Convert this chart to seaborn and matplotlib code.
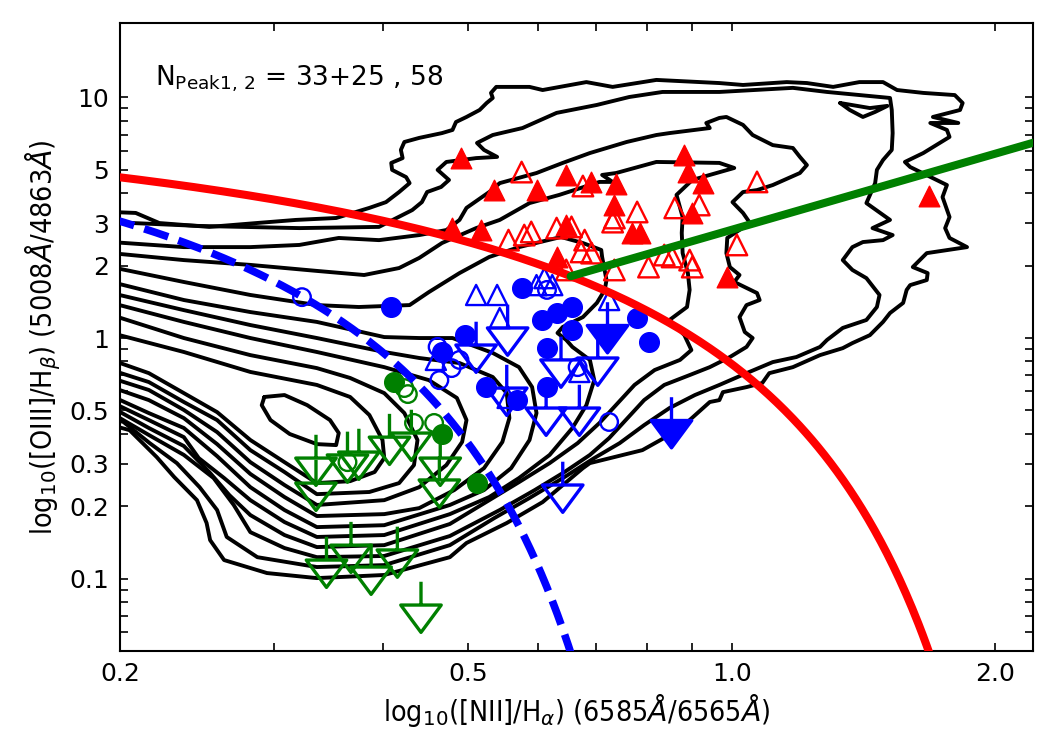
import numpy as np
import pandas as pd
import matplotlib
matplotlib.use("Agg")
import matplotlib.pyplot as plt
import matplotlib.ticker as mtick
from matplotlib import font_manager
from matplotlib.path import Path
import seaborn as sns

# ---- density contours of the comparison sample: (log10 [NII]/Ha, log10 [OIII]/Hb) ----
c1 = [(-0.709, 0.524), (-0.681, 0.520), (-0.654, 0.478), (-0.597, 0.462), (-0.543, 0.478), (-0.498, 0.491),
      (-0.452, 0.499), (-0.414, 0.541), (-0.395, 0.565), (-0.380, 0.607), (-0.368, 0.644), (-0.372, 0.669),
      (-0.388, 0.699), (-0.389, 0.728), (-0.376, 0.748), (-0.378, 0.782), (-0.374, 0.815), (-0.357, 0.832),
      (-0.331, 0.852), (-0.319, 0.865), (-0.315, 0.898), (-0.303, 0.919), (-0.288, 0.948), (-0.280, 0.977),
      (-0.273, 0.998), (-0.275, 1.019), (-0.269, 1.044), (-0.231, 1.044), (-0.216, 1.031), (-0.166, 1.064),
      (-0.136, 1.044), (-0.086, 1.073), (-0.014, 1.060), (0.013, 1.052), (0.063, 1.064), (0.086, 1.060),
      (0.116, 1.044), (0.146, 1.064), (0.173, 1.064), (0.189, 1.031), (0.219, 1.019), (0.255, 1.010),
      (0.264, 0.977), (0.261, 0.948), (0.230, 0.919), (0.259, 0.894), (0.227, 0.894), (0.246, 0.865),
      (0.249, 0.836), (0.219, 0.769), (0.198, 0.732), (0.204, 0.711), (0.246, 0.636), (0.241, 0.586),
      (0.249, 0.503), (0.244, 0.457), (0.249, 0.416), (0.269, 0.378), (0.223, 0.353), (0.207, 0.295),
      (0.224, 0.270), (0.223, 0.241), (0.204, 0.220), (0.200, 0.200), (0.196, 0.146), (0.181, 0.104),
      (0.173, 0.067), (0.158, 0.012), (0.138, -0.021), (0.127, -0.042), (0.101, -0.071), (0.070, -0.121),
      (0.043, -0.146), (0.035, -0.187), (0.017, -0.204), (-0.010, -0.225), (-0.014, -0.258), (-0.025, -0.266),
      (-0.048, -0.341), (-0.071, -0.403), (-0.102, -0.466), (-0.162, -0.520), (-0.170, -0.541), (-0.216, -0.682),
      (-0.257, -0.769), (-0.303, -0.852), (-0.322, -0.911), (-0.397, -0.985), (-0.474, -0.998), (-0.531, -0.977),
      (-0.580, -0.923), (-0.596, -0.840), (-0.600, -0.769), (-0.611, -0.674), (-0.637, -0.578), (-0.657, -0.495),
      (-0.688, -0.383), (-0.709, -0.362)]
c2 = [(-0.709, 0.482), (-0.609, 0.466), (-0.494, 0.457), (-0.403, 0.462), (-0.365, 0.532), (-0.354, 0.565),
      (-0.348, 0.607), (-0.332, 0.628), (-0.323, 0.657), (-0.336, 0.699), (-0.326, 0.732), (-0.292, 0.748),
      (-0.268, 0.753), (-0.283, 0.782), (-0.291, 0.811), (-0.273, 0.844), (-0.239, 0.873), (-0.200, 0.936),
      (-0.154, 0.969), (-0.117, 1.002), (-0.079, 1.023), (-0.014, 1.023), (0.070, 1.040), (0.109, 1.023),
      (0.181, 0.998), (0.183, 0.948), (0.184, 0.852), (0.183, 0.782), (0.173, 0.740), (0.166, 0.699),
      (0.164, 0.644), (0.154, 0.561), (0.181, 0.491), (0.161, 0.457), (0.184, 0.428), (0.173, 0.407),
      (0.150, 0.399), (0.138, 0.378), (0.127, 0.324), (0.138, 0.283), (0.154, 0.249), (0.169, 0.179),
      (0.166, 0.129), (0.154, 0.075), (0.127, 0.042), (0.109, -0.008), (0.101, -0.037), (0.074, -0.079),
      (0.047, -0.100), (0.017, -0.146), (-0.014, -0.195), (-0.042, -0.237), (-0.071, -0.291), (-0.100, -0.362),
      (-0.128, -0.437), (-0.157, -0.499), (-0.191, -0.578), (-0.231, -0.665), (-0.271, -0.748), (-0.322, -0.861),
      (-0.397, -0.944), (-0.474, -0.952), (-0.542, -0.911), (-0.577, -0.827), (-0.588, -0.715), (-0.608, -0.620),
      (-0.634, -0.520), (-0.665, -0.437), (-0.695, -0.349), (-0.709, -0.333)]
c2_island = [(0.124, 0.977), (0.158, 0.956), (0.178, 0.965), (0.164, 0.940), (0.150, 0.919), (0.135, 0.948),
             (0.124, 0.977)]
c3 = [(-0.709, 0.399), (-0.626, 0.378), (-0.550, 0.378), (-0.494, 0.387), (-0.449, 0.416), (-0.403, 0.407),
      (-0.357, 0.428), (-0.326, 0.449), (-0.311, 0.491), (-0.303, 0.541), (-0.277, 0.607), (-0.265, 0.644),
      (-0.223, 0.686), (-0.193, 0.728), (-0.162, 0.769), (-0.120, 0.815), (-0.086, 0.844), (-0.071, 0.852),
      (-0.025, 0.873), (-0.029, 0.894), (-0.014, 0.915), (-0.006, 0.919), (0.013, 0.886), (0.024, 0.844),
      (0.047, 0.802), (0.070, 0.790), (0.078, 0.753), (0.086, 0.719), (0.078, 0.686), (0.047, 0.636),
      (0.029, 0.615), (0.013, 0.607), (0.001, 0.565), (0.013, 0.520), (0.021, 0.478), (-0.005, 0.416),
      (-0.006, 0.353), (-0.002, 0.295), (0.009, 0.262), (0.003, 0.233), (0.029, 0.187), (0.032, 0.158),
      (0.017, 0.137), (0.009, 0.087), (0.015, 0.025), (0.024, 0.000), (0.017, -0.037), (-0.002, -0.079),
      (-0.025, -0.121), (-0.048, -0.154), (-0.077, -0.195), (-0.100, -0.258), (-0.119, -0.333), (-0.140, -0.416),
      (-0.162, -0.486), (-0.191, -0.557), (-0.225, -0.632), (-0.265, -0.715), (-0.322, -0.823), (-0.397, -0.906),
      (-0.474, -0.911), (-0.511, -0.873), (-0.550, -0.807), (-0.569, -0.694), (-0.592, -0.582), (-0.626, -0.486),
      (-0.666, -0.403), (-0.709, -0.312)]
c4 = [(-0.709, 0.353), (-0.626, 0.324), (-0.550, 0.304), (-0.474, 0.279), (-0.420, 0.262), (-0.380, 0.291),
      (-0.357, 0.333), (-0.331, 0.395), (-0.292, 0.457), (-0.265, 0.491), (-0.231, 0.561), (-0.197, 0.595),
      (-0.151, 0.649), (-0.136, 0.649), (-0.148, 0.678), (-0.132, 0.686), (-0.086, 0.732), (-0.014, 0.728),
      (0.003, 0.707), (-0.025, 0.678), (-0.045, 0.657), (-0.063, 0.595), (-0.056, 0.503), (-0.057, 0.437),
      (-0.056, 0.353), (-0.050, 0.270), (-0.048, 0.200), (-0.051, 0.129), (-0.071, 0.075), (-0.054, 0.012),
      (-0.046, -0.050), (-0.059, -0.091), (-0.088, -0.133), (-0.111, -0.195), (-0.130, -0.270), (-0.151, -0.353),
      (-0.176, -0.437), (-0.208, -0.520), (-0.243, -0.599), (-0.277, -0.674), (-0.322, -0.773), (-0.397, -0.861),
      (-0.474, -0.869), (-0.511, -0.819), (-0.550, -0.736), (-0.574, -0.653), (-0.597, -0.557), (-0.626, -0.449),
      (-0.666, -0.374), (-0.709, -0.287)]
c5 = [(-0.709, 0.295), (-0.626, 0.233), (-0.550, 0.179), (-0.474, 0.137), (-0.426, 0.129), (-0.368, 0.137),
      (-0.346, 0.191), (-0.311, 0.270), (-0.277, 0.337), (-0.243, 0.378), (-0.195, 0.420), (-0.170, 0.395),
      (-0.149, 0.366), (-0.148, 0.337), (-0.143, 0.241), (-0.145, 0.200), (-0.154, 0.146), (-0.170, 0.087),
      (-0.193, 0.046), (-0.199, 0.021), (-0.189, -0.008), (-0.182, -0.037), (-0.162, -0.091), (-0.157, -0.175),
      (-0.166, -0.279), (-0.182, -0.374), (-0.208, -0.486), (-0.243, -0.582), (-0.277, -0.661), (-0.322, -0.732),
      (-0.397, -0.819), (-0.474, -0.827), (-0.511, -0.765), (-0.550, -0.674), (-0.580, -0.582), (-0.609, -0.499),
      (-0.626, -0.412), (-0.666, -0.341), (-0.709, -0.266)]
c6 = [(-0.709, 0.233), (-0.626, 0.158), (-0.550, 0.108), (-0.474, 0.067), (-0.397, 0.004), (-0.357, 0.000),
      (-0.319, 0.000), (-0.273, -0.062), (-0.243, -0.121), (-0.228, -0.204), (-0.223, -0.312), (-0.231, -0.424),
      (-0.252, -0.541), (-0.283, -0.632), (-0.322, -0.694), (-0.397, -0.778), (-0.474, -0.786), (-0.511, -0.715),
      (-0.550, -0.620), (-0.588, -0.491), (-0.626, -0.374), (-0.666, -0.312), (-0.709, -0.241)]
c7 = [(-0.709, 0.187), (-0.626, 0.116), (-0.550, 0.054), (-0.474, 0.000), (-0.397, -0.058), (-0.357, -0.083),
      (-0.311, -0.104), (-0.273, -0.162), (-0.257, -0.229), (-0.254, -0.333), (-0.262, -0.432), (-0.283, -0.541),
      (-0.317, -0.632), (-0.357, -0.707), (-0.397, -0.732), (-0.474, -0.740), (-0.511, -0.661), (-0.550, -0.565),
      (-0.588, -0.441), (-0.626, -0.333), (-0.666, -0.258), (-0.709, -0.204)]
c8 = [(-0.709, 0.146), (-0.626, 0.067), (-0.550, 0.000), (-0.474, -0.058), (-0.397, -0.121), (-0.346, -0.175),
      (-0.314, -0.249), (-0.303, -0.341), (-0.308, -0.432), (-0.326, -0.528), (-0.357, -0.620), (-0.397, -0.674),
      (-0.474, -0.694), (-0.511, -0.611), (-0.550, -0.516), (-0.588, -0.391), (-0.626, -0.299), (-0.666, -0.216),
      (-0.709, -0.166)]
c9 = [(-0.709, 0.096), (-0.626, 0.000), (-0.550, -0.071), (-0.474, -0.125), (-0.436, -0.166), (-0.397, -0.229),
      (-0.374, -0.312), (-0.359, -0.424), (-0.363, -0.528), (-0.380, -0.603), (-0.414, -0.640), (-0.474, -0.649),
      (-0.511, -0.557), (-0.550, -0.466), (-0.588, -0.341), (-0.626, -0.266), (-0.666, -0.183), (-0.709, -0.133)]
c10 = [(-0.709, 0.021), (-0.626, -0.058), (-0.550, -0.141), (-0.474, -0.195), (-0.436, -0.245), (-0.414, -0.320),
       (-0.399, -0.424), (-0.397, -0.499), (-0.408, -0.557), (-0.436, -0.595), (-0.474, -0.603), (-0.511, -0.516),
       (-0.550, -0.424), (-0.588, -0.308), (-0.626, -0.229), (-0.666, -0.146), (-0.709, -0.091)]
c11 = [(-0.534, -0.245), (-0.511, -0.237), (-0.485, -0.279), (-0.459, -0.341), (-0.449, -0.395), (-0.452, -0.445),
       (-0.474, -0.441), (-0.505, -0.399), (-0.527, -0.341), (-0.537, -0.279), (-0.534, -0.245)]

# ---- galaxies (log10 [NII]/Ha, log10 [OIII]/Hb) ----
red_filled = [(-0.309, 0.748), (-0.271, 0.615), (-0.223, 0.615), (-0.189, 0.678), (-0.161, 0.649), (-0.132, 0.640),
              (-0.134, 0.553), (-0.054, 0.761), (-0.050, 0.690), (-0.033, 0.644), (-0.045, 0.520), (-0.320, 0.457),
              (-0.286, 0.449), (-0.189, 0.470), (-0.114, 0.437), (-0.105, 0.437), (-0.200, 0.337), (-0.005, 0.254),
              (0.225, 0.590)]
red_open = [(-0.240, 0.690), (-0.170, 0.632), (-0.134, 0.499), (-0.108, 0.524), (-0.065, 0.541), (-0.037, 0.553),
            (0.029, 0.649), (-0.255, 0.407), (-0.237, 0.428), (-0.229, 0.441), (-0.200, 0.457), (-0.183, 0.462),
            (-0.168, 0.407), (-0.172, 0.358), (-0.160, 0.353), (-0.189, 0.283), (-0.134, 0.283), (-0.095, 0.295),
            (-0.077, 0.345), (-0.068, 0.337), (-0.048, 0.324), (-0.045, 0.295), (0.006, 0.387), (-0.136, 0.482)]
blue_filled = [(-0.389, 0.129), (-0.239, 0.208), (-0.217, 0.075), (-0.200, 0.104), (-0.183, 0.129), (-0.183, 0.033),
               (-0.211, -0.042), (-0.211, -0.204), (-0.108, 0.083), (-0.094, -0.017), (-0.305, 0.012),
               (-0.331, -0.058), (-0.281, -0.204), (-0.245, -0.258)]
blue_open = [(-0.491, 0.170), (-0.211, 0.200), (-0.336, -0.037), (-0.320, -0.125), (-0.334, -0.175),
             (-0.176, -0.121), (-0.140, -0.349), (-0.311, -0.091)]
blue_tri = [(-0.292, 0.179), (-0.268, 0.179), (-0.265, 0.083), (-0.223, 0.220), (-0.214, 0.249), (-0.205, 0.220),
            (-0.140, 0.158), (-0.338, -0.091), (-0.256, -0.249), (-0.174, -0.141)]
blue_lim_open = [(-0.256, 0.042), (-0.292, -0.029), (-0.195, -0.091), (-0.153, -0.083), (-0.257, -0.208),
                 (-0.212, -0.291), (-0.174, -0.291), (-0.193, -0.611)]
blue_lim_filled = [(-0.142, 0.054), (-0.069, -0.341)]
green_filled = [(-0.386, -0.183), (-0.331, -0.399), (-0.291, -0.603)]
green_open = [(-0.374, -0.208), (-0.370, -0.233), (-0.363, -0.353), (-0.340, -0.353), (-0.439, -0.516)]
green_lim = [(-0.475, -0.499), (-0.475, -0.603), (-0.439, -0.486), (-0.426, -0.474), (-0.391, -0.412),
             (-0.366, -0.395), (-0.333, -0.499), (-0.334, -0.590), (-0.463, -0.923), (-0.435, -0.861),
             (-0.412, -0.952), (-0.382, -0.881), (-0.355, -1.110)]

# demarcation lines: y = a / (x - b) + c  and  y = m x + k
kewley = (0.61, 0.47, 1.19)
kauffmann = (0.61, 0.05, 1.30)
schawinski = (1.05, 0.45)
schawinski_start = -0.184

x_ticks = [0.2, 0.5, 1.0, 2.0]
x_labels = ["0.2", "0.5", "1.0", "2.0"]
x_minor = [0.3, 0.4, 0.6, 0.7, 0.8, 0.9]
y_ticks = [0.1, 0.2, 0.3, 0.5, 1, 2, 3, 5, 10]
y_labels = ["0.1", "0.2", "0.3", "0.5", "1", "2", "3", "5", "10"]
y_minor = [0.06, 0.07, 0.08, 0.09, 0.4, 0.6, 0.7, 0.8, 0.9, 4, 6, 7, 8, 9]

sns.set_style("ticks")
plt.rcParams["font.family"] = ["DejaVu Sans"]
plt.rcParams["xtick.direction"] = "in"
plt.rcParams["ytick.direction"] = "in"
for key in ["text.color", "axes.labelcolor", "xtick.color", "ytick.color", "axes.edgecolor"]:
    plt.rcParams[key] = "black"

# narrow face for the axis titles, if one is installed
names = {f.name for f in font_manager.fontManager.ttflist}
narrow = next((n for n in ["DejaVu Sans Condensed", "Liberation Sans Narrow"] if n in names), None)
label_font = dict(fontstretch="condensed")
if narrow:
    label_font = dict(family=narrow)
    plt.rcParams["mathtext.fontset"] = "custom"
    plt.rcParams["mathtext.rm"] = narrow
    plt.rcParams["mathtext.it"] = narrow + ":italic"
    plt.rcParams["mathtext.bf"] = narrow + ":bold"

fig = plt.figure(figsize=(10.5, 7.5), dpi=100)
ax = fig.add_axes([120 / 1050, 1 - 651 / 750, 913 / 1050, 628 / 750])
ax.set_xscale("log")
ax.set_yscale("log")


def to_frame(pts):
    df = pd.DataFrame(pts, columns=["lx", "ly"])
    df["x"] = 10 ** df.lx
    df["y"] = 10 ** df.ly
    return df


for c in [c1, c2, c2_island, c3, c4, c5, c6, c7, c8, c9, c10, c11]:
    d = to_frame(c)
    sns.lineplot(data=d, x="x", y="y", sort=False, estimator=None, color="black", lw=2.8, ax=ax, zorder=1)

# upper-limit symbol: open triangle pointing down with a bar on top
lim_marker = Path([(0, 0), (0, 23), (-20, 0), (20, 0), (0, -27), (-20, 0)],
                  [Path.MOVETO, Path.LINETO, Path.MOVETO, Path.LINETO, Path.LINETO, Path.CLOSEPOLY])


def points(pts, marker, size, face, edge, lw=1.8):
    d = to_frame(pts)
    sns.scatterplot(data=d, x="x", y="y", marker=marker, s=size, color=edge, facecolor=face,
                    edgecolor=edge, linewidth=lw, ax=ax, zorder=3)


points(red_filled, "^", 220, "red", "red", 1.0)
points(red_open, "^", 220, "none", "red", 1.7)
points(blue_filled, "o", 200, "blue", "blue", 1.0)
points(blue_open, "o", 160, "none", "blue", 1.7)
points(blue_tri, "^", 210, "none", "blue", 1.7)
points(blue_lim_open, lim_marker, 1550, "none", "blue", 2.4)
points(blue_lim_filled, lim_marker, 1550, "blue", "blue", 2.4)
points(green_filled, "o", 200, "green", "green", 1.0)
points(green_open, "o", 160, "none", "green", 1.7)
points(green_lim, lim_marker, 1550, "none", "green", 2.4)

# demarcation curves
lx = np.linspace(-0.75, 0.44, 500)
kw = pd.DataFrame({"x": 10 ** lx, "y": 10 ** (kewley[0] / (lx - kewley[1]) + kewley[2])})
sns.lineplot(data=kw, x="x", y="y", sort=False, estimator=None, color="red", lw=5.8, ax=ax, zorder=4)

lx = np.linspace(-0.75, 0.02, 500)
kf = pd.DataFrame({"x": 10 ** lx, "y": 10 ** (kauffmann[0] / (lx - kauffmann[1]) + kauffmann[2])})
sns.lineplot(data=kf, x="x", y="y", sort=False, estimator=None, color="blue", lw=5.5, ax=ax, zorder=4)
ax.lines[-1].set_dashes((3.3, 1.4))

lx = np.linspace(schawinski_start, 0.4, 50)
sc = pd.DataFrame({"x": 10 ** lx, "y": 10 ** (schawinski[0] * lx + schawinski[1])})
sns.lineplot(data=sc, x="x", y="y", sort=False, estimator=None, color="green", lw=5.8, ax=ax, zorder=4)

ax.set_xlim(0.2, 2.21)
ax.set_ylim(0.05, 20.4)

ax.xaxis.set_major_locator(mtick.FixedLocator(x_ticks))
ax.xaxis.set_major_formatter(mtick.FixedFormatter(x_labels))
ax.xaxis.set_minor_locator(mtick.FixedLocator(x_minor))
ax.xaxis.set_minor_formatter(mtick.NullFormatter())
ax.yaxis.set_major_locator(mtick.FixedLocator(y_ticks))
ax.yaxis.set_major_formatter(mtick.FixedFormatter(y_labels))
ax.yaxis.set_minor_locator(mtick.FixedLocator(y_minor))
ax.yaxis.set_minor_formatter(mtick.NullFormatter())
ax.tick_params(which="both", direction="in", top=True, right=True, length=6, width=1.2, labelsize=18, pad=8,
               colors="black")
for s in ax.spines.values():
    s.set_linewidth(1.5)
    s.set_color("black")
    s.set_visible(True)

ax.set_xlabel(r"log$_{10}$([NII]/H$_\alpha$) (6585$\AA$/6565$\AA$)", fontsize=20.5, labelpad=4, **label_font)
ax.set_ylabel(r"log$_{10}$([OIII]/H$_\beta$) (5008$\AA$/4863$\AA$)", fontsize=20.5, labelpad=4, **label_font)

ax.text(0.038, 0.90, r"N$_{\mathrm{Peak1,\,2}}$ = 33+25 , 58", transform=ax.transAxes, fontsize=19,
        va="baseline", ha="left", color="black", math_fontfamily="dejavusans")

fig.savefig("out.png", dpi=100)
